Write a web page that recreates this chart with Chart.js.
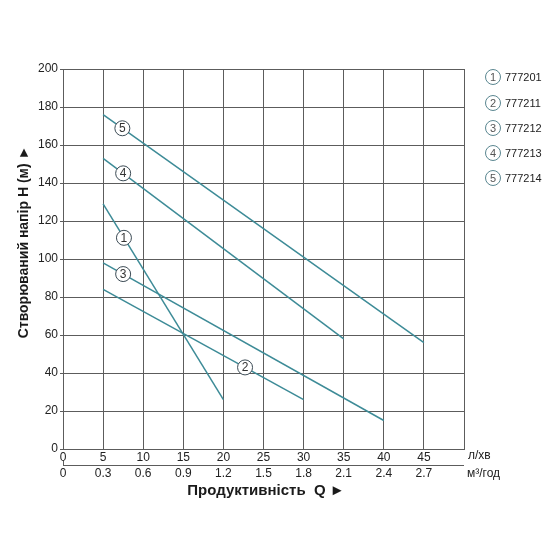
<!DOCTYPE html>
<html><head><meta charset="utf-8">
<script src="https://cdn.jsdelivr.net/npm/chart.js@4"></script>
<style>html,body{margin:0;padding:0;background:#fff}#wrap{width:560px;height:560px}</style>
</head><body><div id="wrap"><canvas id="c" width="560" height="560"></canvas></div>
<script>
// ---- data ----
const xTickLabels = ['0','5','10','15','20','25','30','35','40','45'];
const x2TickLabels = ['0','0.3','0.6','0.9','1.2','1.5','1.8','2.1','2.4','2.7'];
const yTickLabels = ['0','20','40','60','80','100','120','140','160','180','200'];
const seriesNums = ['1','2','3','4','5'];
const seriesNames = ['777201','777211','777212','777213','777214'];
const q1 = [5, 20],  h1 = [129, 26];
const q2 = [5, 30],  h2 = [84, 26];
const q3 = [5, 40],  h3 = [98, 15];
const q4 = [5, 35],  h4 = [153, 58];
const q5 = [5, 45],  h5 = [176, 56];
const labelQ = [7.6, 22.7, 7.5, 7.5, 7.4];
const xUnit = 'л/хв';
const x2Unit = 'м³/год';
const xTitle = 'Продуктивність  Q ►';
const yTitle = 'Створюваний напір H (м) ►';

const seriesQ = [q1,q2,q3,q4,q5];
const seriesH = [h1,h2,h3,h4,h5];
const LINE = '#3d8b97';
const GRID = '#5c5c5c';
const FONT = '"Liberation Sans", Arial, sans-serif';

function hAt(i, q){
  const Q = seriesQ[i], H = seriesH[i];
  return H[0] + (q - Q[0]) * (H[1]-H[0]) / (Q[1]-Q[0]);
}

const decor = {
  id:'decor',
  afterDatasetsDraw(chart){
    const ctx = chart.ctx, xs = chart.scales.x, ys = chart.scales.y;
    ctx.save();
    // circle labels on lines
    for(let i=0;i<5;i++){
      const px = xs.getPixelForValue(labelQ[i]);
      const py = ys.getPixelForValue(hAt(i, labelQ[i]));
      ctx.beginPath(); ctx.arc(px, py, 7.5, 0, Math.PI*2);
      ctx.fillStyle='#fff'; ctx.fill();
      ctx.lineWidth=1; ctx.strokeStyle='#3b4a54'; ctx.stroke();
      ctx.fillStyle='#333'; ctx.font='12px '+FONT; ctx.textAlign='center'; ctx.textBaseline='middle';
      ctx.fillText(seriesNums[i], px, py+0.5);
    }
    // legend
    const ly = [77,103,128,153,178];
    for(let i=0;i<5;i++){
      ctx.beginPath(); ctx.arc(493, ly[i], 7.5, 0, Math.PI*2);
      ctx.fillStyle='#fff'; ctx.fill();
      ctx.lineWidth=1; ctx.strokeStyle='#5a8690'; ctx.stroke();
      ctx.fillStyle='#555'; ctx.font='11px '+FONT; ctx.textAlign='center'; ctx.textBaseline='middle';
      ctx.fillText(seriesNums[i], 493, ly[i]+0.5);
      ctx.fillStyle='#222'; ctx.textAlign='left';
      ctx.fillText(seriesNames[i], 505, ly[i]+0.5);
    }
    // second x axis
    const y2 = 465;
    ctx.strokeStyle=GRID; ctx.lineWidth=1;
    ctx.beginPath(); ctx.moveTo(xs.left, y2+0.5); ctx.lineTo(xs.right, y2+0.5); ctx.stroke();
    ctx.beginPath(); ctx.moveTo(xs.left+0.5, y2); ctx.lineTo(xs.left+0.5, y2-4); ctx.stroke();
    ctx.fillStyle='#222'; ctx.font='12px '+FONT; ctx.textAlign='center'; ctx.textBaseline='middle';
    for(let i=0;i<x2TickLabels.length;i++){
      ctx.fillText(x2TickLabels[i], xs.getPixelForValue(i*5), 474);
    }
    ctx.textAlign='left';
    ctx.fillText(xUnit, 468, 456);
    ctx.fillText(x2Unit, 467, 474);
    // titles
    ctx.font='bold 15px '+FONT; ctx.fillStyle='#1a1a1a'; ctx.textAlign='center';
    ctx.fillText(xTitle, 266, 491);
    ctx.font='bold 14px '+FONT;
    ctx.translate(24, 242); ctx.rotate(-Math.PI/2);
    ctx.fillText(yTitle, 0, 0);
    ctx.restore();
  }
};

const datasets = seriesQ.map((Q,i)=>({
  label: seriesNames[i],
  data: Q.map((q,j)=>({x:q, y:seriesH[i][j]})),
  borderColor: LINE, borderWidth: 1.5, pointRadius: 0, showLine: true, fill:false
}));

new Chart(document.getElementById('c'), {
  type:'scatter',
  data:{datasets},
  options:{
    responsive:false, animation:false, devicePixelRatio:1,
    layout:{padding:{left:0, top:69, right:96, bottom:0}},
    plugins:{legend:{display:false}, tooltip:{enabled:false}},
    scales:{
      x:{type:'linear', min:0, max:50, position:'bottom',
        ticks:{stepSize:5, autoSkip:false, maxRotation:0, padding:1, color:'#222', font:{family:FONT, size:12},
          callback:(v,i)=> xTickLabels[i] ?? ''},
        grid:{color:GRID, lineWidth:1, drawTicks:false},
        border:{color:GRID},
        afterFit:s=>{s.height=111;}
      },
      y:{type:'linear', min:0, max:200,
        ticks:{stepSize:20, padding:2, color:'#222', font:{family:FONT, size:12},
          callback:(v,i)=> yTickLabels[i] ?? ''},
        grid:{color:GRID, lineWidth:1, drawTicks:true, tickLength:3},
        border:{color:GRID},
        afterFit:s=>{s.width=63;}
      }
    }
  },
  plugins:[decor]
});
</script></body></html>
